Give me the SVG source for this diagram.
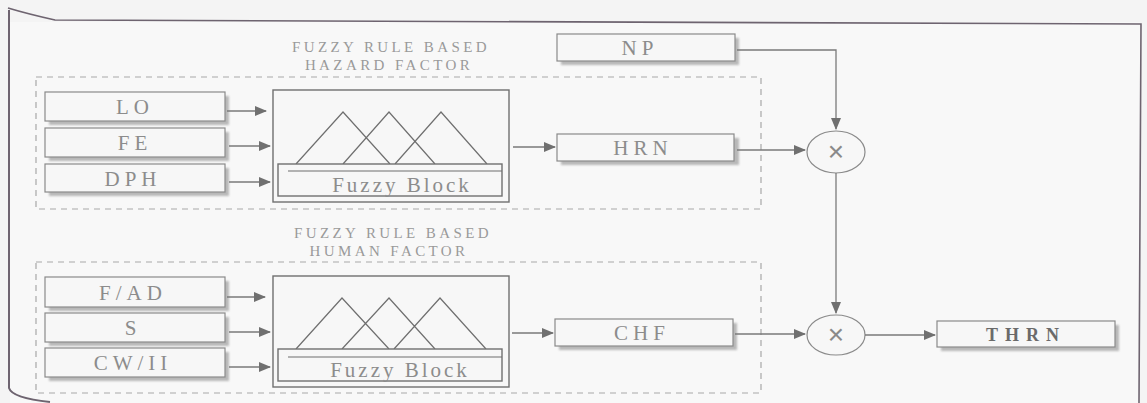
<svg xmlns="http://www.w3.org/2000/svg" width="1147" height="403" viewBox="0 0 1147 403">
<defs>
<marker id="ah" markerWidth="12" markerHeight="10" refX="11" refY="5" orient="auto" markerUnits="userSpaceOnUse">
<path d="M0,0 L12,5 L0,10 Z" fill="#707070"/>
</marker>
<filter id="sh" x="-5%" y="-20%" width="115%" height="160%">
<feGaussianBlur stdDeviation="1.2"/>
</filter>
</defs>
<style>
.bx{fill:#f7f7f7;stroke:#8a8a8a;stroke-width:1.2}
.shd{fill:#b8b8b8;filter:url(#sh)}
.lbl{font-family:"Liberation Serif","Times New Roman","DejaVu Serif",serif;font-size:21px;fill:#8c8c8c;text-anchor:middle;letter-spacing:5px}
.hd{font-family:"Liberation Serif","Times New Roman","DejaVu Serif",serif;font-size:15px;fill:#9a9a9a;text-anchor:middle;letter-spacing:3.4px}
.dash{fill:none;stroke:#a8a8a8;stroke-width:1.2;stroke-dasharray:6,5}
.fb{fill:#f7f7f7;stroke:#6f6f6f;stroke-width:1.4}
.tri{fill:none;stroke:#6f6f6f;stroke-width:1.2}
.con{fill:none;stroke:#7a7a7a;stroke-width:1.3;marker-end:url(#ah)}
.circ{fill:#f7f7f7;stroke:#8a8a8a;stroke-width:1.2}
.x{font-family:"Liberation Sans",sans-serif;font-size:28px;fill:#8a8a8a;text-anchor:middle}
</style>
<rect width="1147" height="403" fill="#f4f4f4"/>
<rect x="10" y="22" width="1130" height="381" fill="#f8f8f8"/>
<path d="M8,8 Q28,14 55,20 L1141,24 L1139,403" fill="none" stroke="#6e6470" stroke-width="1.6"/>
<path d="M9,10 L9,388 Q12,398 50,402" fill="none" stroke="#6e6470" stroke-width="2"/>

<g id="hazard-group">
<rect class="dash" x="36" y="77" width="725" height="132"/>
<text class="hd" x="391" y="52">FUZZY RULE BASED</text>
<text class="hd" x="389" y="70">HAZARD FACTOR</text>
</g>
<g id="human-group">
<rect class="dash" x="36" y="262" width="725" height="131"/>
<text class="hd" x="393" y="238">FUZZY RULE BASED</text>
<text class="hd" x="389" y="256">HUMAN FACTOR</text>
</g>

<g id="LO"><rect class="shd" x="49" y="96" width="180" height="29"/><rect class="bx" x="45" y="92" width="180" height="29"/><text class="lbl" x="135" y="114">LO</text></g>
<g id="FE"><rect class="shd" x="49" y="132" width="180" height="29"/><rect class="bx" x="45" y="128" width="180" height="29"/><text class="lbl" x="135" y="150">FE</text></g>
<g id="DPH"><rect class="shd" x="49" y="168" width="180" height="28"/><rect class="bx" x="45" y="164" width="180" height="28"/><text class="lbl" x="133" y="186">DPH</text></g>

<g id="FAD"><rect class="shd" x="49" y="281" width="180" height="30"/><rect class="bx" x="45" y="277" width="180" height="30"/><text class="lbl" x="133" y="300">F/AD</text></g>
<g id="S"><rect class="shd" x="49" y="317" width="180" height="29"/><rect class="bx" x="45" y="313" width="180" height="29"/><text class="lbl" x="133" y="335">S</text></g>
<g id="CWII"><rect class="shd" x="49" y="352" width="180" height="29"/><rect class="bx" x="45" y="348" width="180" height="29"/><text class="lbl" x="133" y="370">CW/II</text></g>

<g id="fuzzy-block-1">
<rect class="fb" x="273" y="90" width="236" height="112"/>
<path class="tri" d="M296,164 L343,112 L390,164 M343,164 L389,112 L435,164 M395,164 L441,112 L487,164"/>
<rect class="fb" x="278" y="164" width="224" height="32"/>
<line x1="288" y1="171" x2="502" y2="171" stroke="#6f6f6f" stroke-width="1.2"/>
<text class="lbl" x="402" y="192" style="letter-spacing:3px">Fuzzy Block</text>
</g>
<g id="fuzzy-block-2">
<rect class="fb" x="273" y="276" width="236" height="111"/>
<path class="tri" d="M296,349 L342,298 L389,349 M342,349 L389,298 L435,349 M394,349 L440,298 L486,349"/>
<rect class="fb" x="278" y="349" width="224" height="32"/>
<line x1="288" y1="357" x2="502" y2="357" stroke="#6f6f6f" stroke-width="1.2"/>
<text class="lbl" x="400" y="377" style="letter-spacing:3px">Fuzzy Block</text>
</g>

<g id="NP"><rect class="shd" x="561" y="38" width="178" height="27"/><rect class="bx" x="557" y="34" width="178" height="27"/><text class="lbl" x="640" y="55">NP</text></g>
<g id="HRN"><rect class="shd" x="561" y="138" width="178" height="27"/><rect class="bx" x="557" y="134" width="177" height="27"/><text class="lbl" x="643" y="155">HRN</text></g>
<g id="CHF"><rect class="shd" x="559" y="323" width="178" height="27"/><rect class="bx" x="555" y="319" width="178" height="27"/><text class="lbl" x="642" y="340">CHF</text></g>
<g id="THRN"><rect class="shd" x="941" y="325" width="178" height="26"/><rect class="bx" x="937" y="321" width="178" height="26"/><text class="lbl" x="1026" y="341" style="font-weight:bold;fill:#6a6a6a;font-size:18px;letter-spacing:7px">THRN</text></g>

<g id="mult-1"><ellipse class="circ" cx="836" cy="152" rx="29" ry="21"/><text class="x" x="836" y="161">×</text></g>
<g id="mult-2"><ellipse class="circ" cx="836" cy="335" rx="29" ry="20"/><text class="x" x="836" y="344">×</text></g>

<g id="connectors">
<line class="con" x1="227" y1="111" x2="266" y2="111"/>
<line class="con" x1="229" y1="146" x2="270" y2="146"/>
<line class="con" x1="229" y1="182" x2="270" y2="182"/>
<line class="con" x1="227" y1="297" x2="265" y2="297"/>
<line class="con" x1="229" y1="332" x2="270" y2="332"/>
<line class="con" x1="229" y1="367" x2="270" y2="367"/>
<line class="con" x1="513" y1="147" x2="555" y2="147"/>
<line class="con" x1="512" y1="333" x2="553" y2="333"/>
<path class="con" d="M737,50 L836,50 L836,129"/>
<line class="con" x1="737" y1="150" x2="805" y2="150"/>
<line class="con" x1="836" y1="173" x2="836" y2="313"/>
<line class="con" x1="735" y1="334" x2="805" y2="334"/>
<line class="con" x1="865" y1="335" x2="935" y2="335"/>
</g>
</svg>
